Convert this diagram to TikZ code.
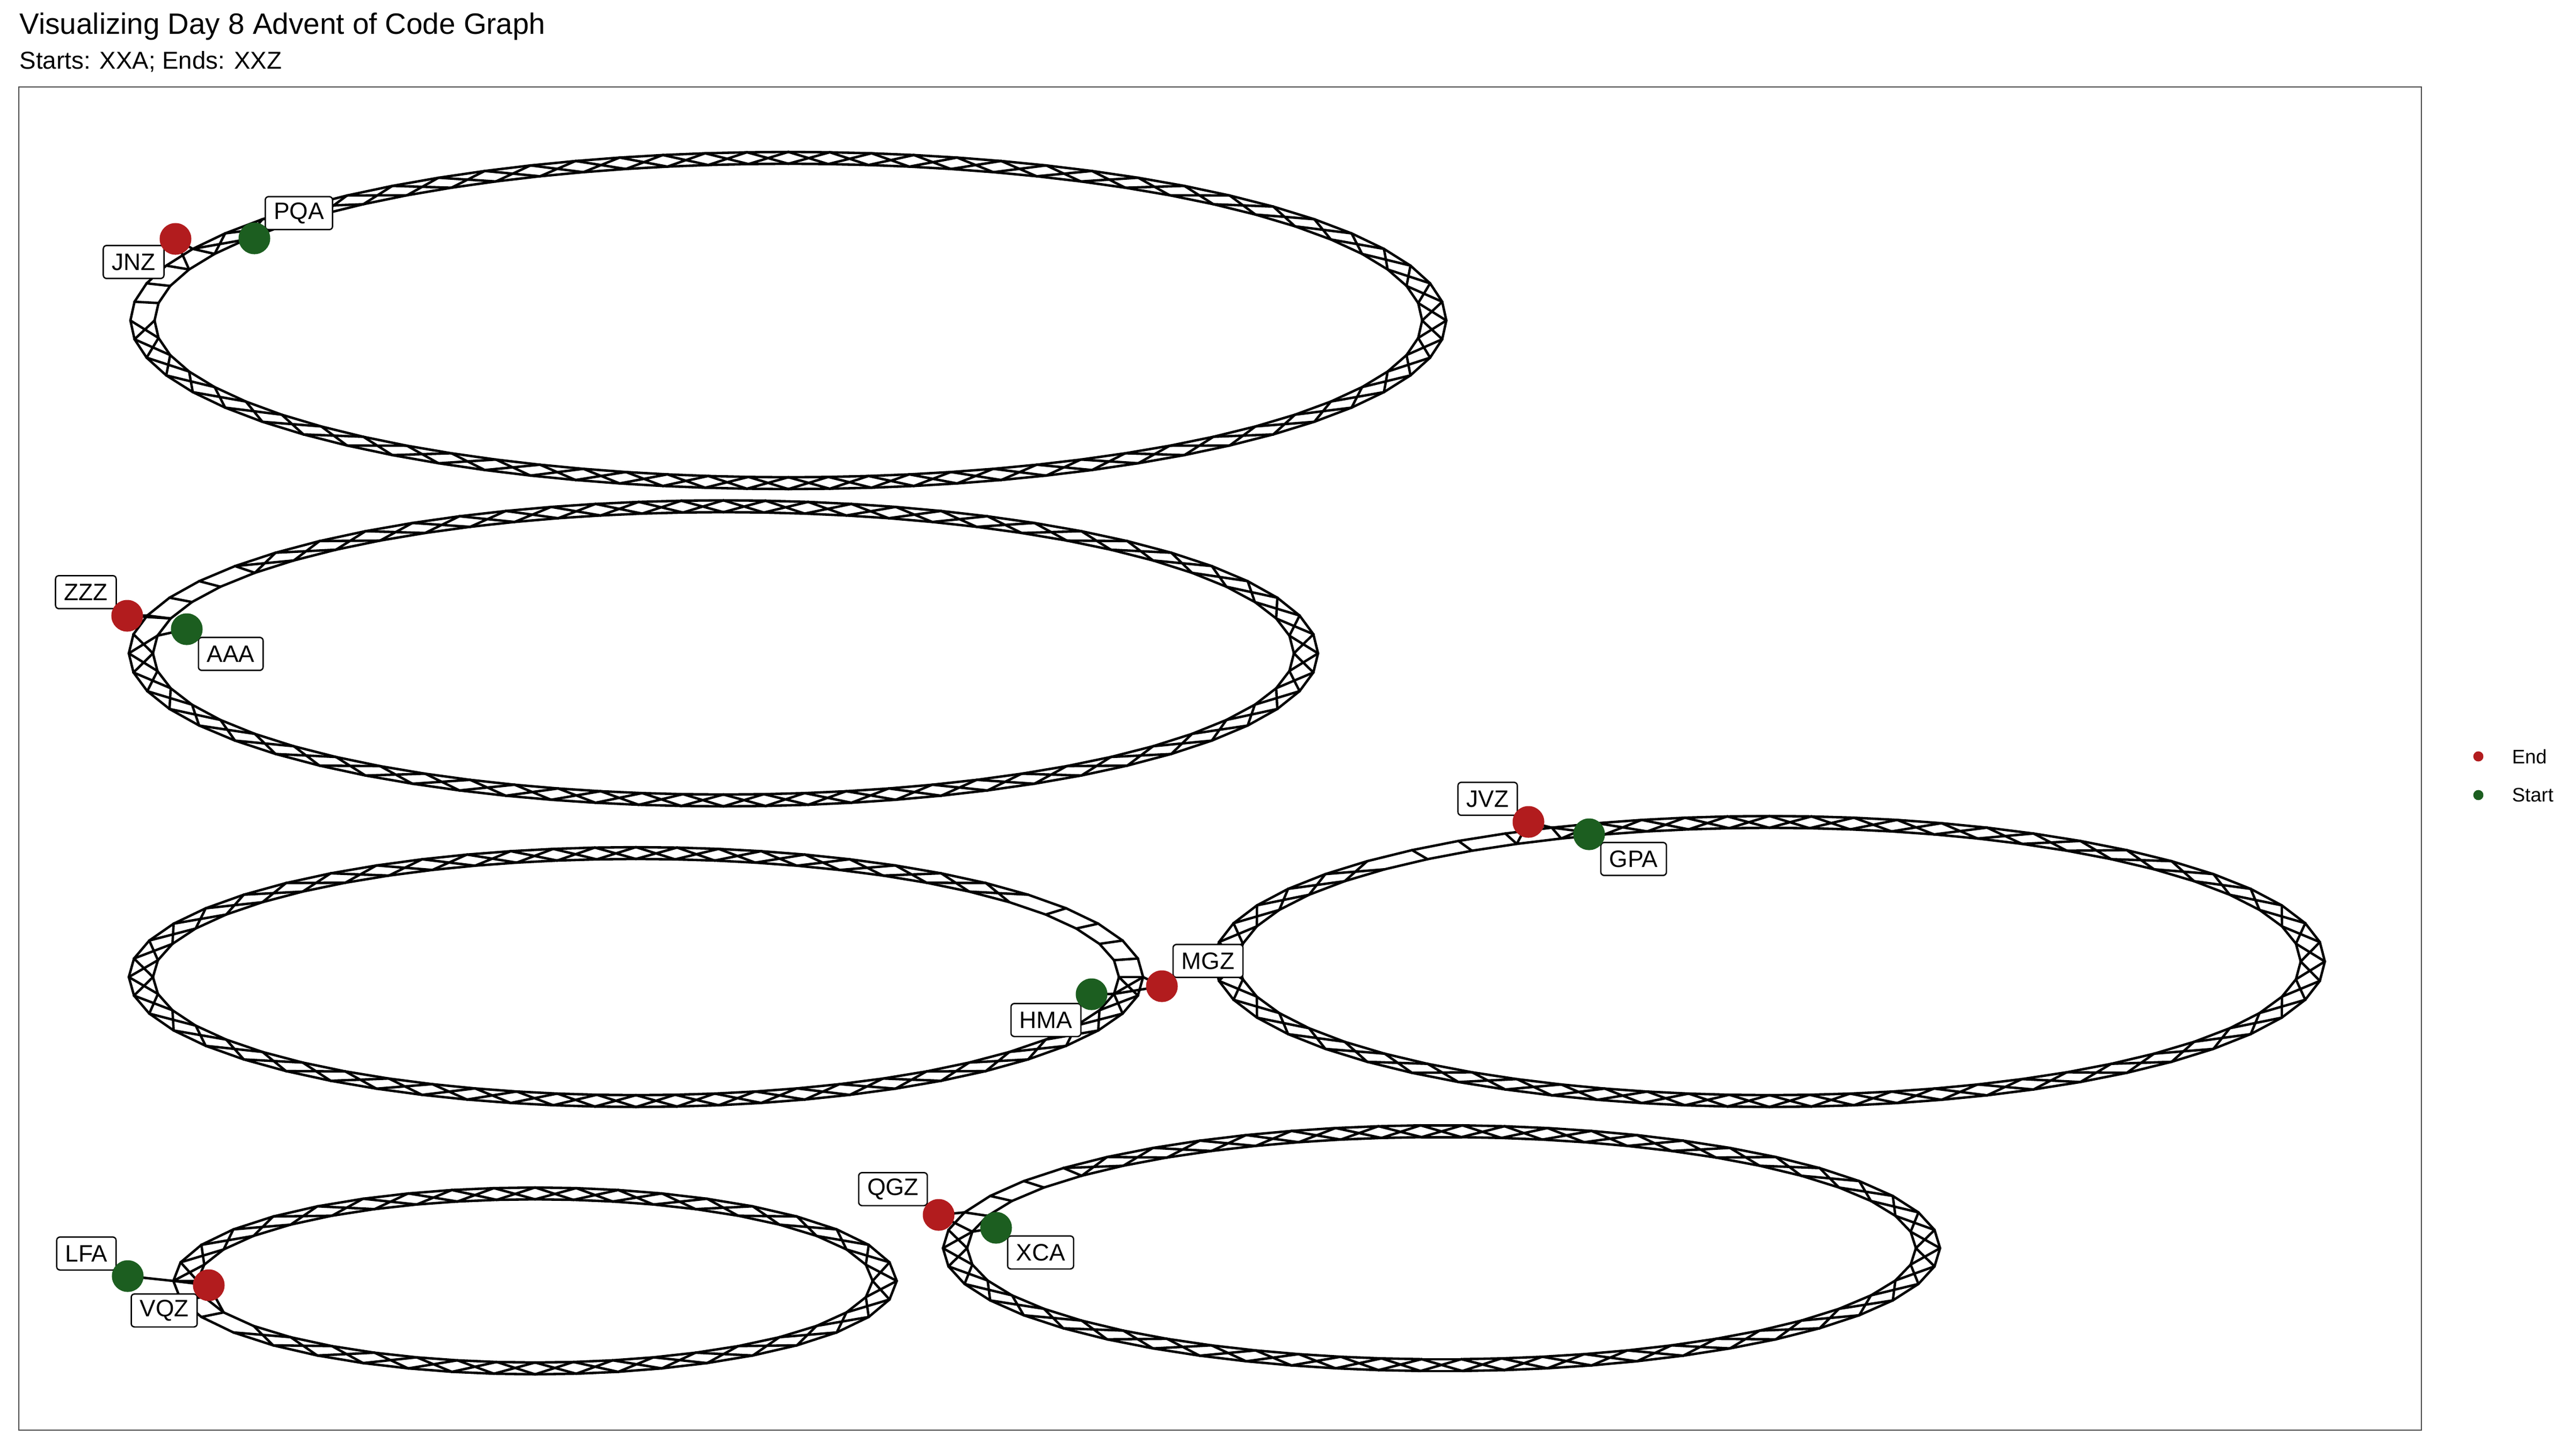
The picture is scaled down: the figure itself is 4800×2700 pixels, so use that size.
\documentclass[tikz,border=0pt]{standalone}
\usepackage{fontspec}
\setmainfont{Liberation Sans}
\usepackage{tikz}
\usetikzlibrary{positioning}

\definecolor{endred}{RGB}{178,28,30}
\definecolor{startgreen}{RGB}{28,94,32}

% one ring component: name, cx, cy, rx, ry, nodes, ladder from, ladder to
\newcommand{\ringgraph}[8]{%
    \foreach \k in {0,...,#6}{
        \pgfmathsetmacro{\tt}{(360/#6)*\k}
        \pgfmathsetmacro{\th}{\tt + 8*sin(2*\tt)}
        \coordinate (#1o\k) at ({#2+#4*cos(\th)},{#3-#5*sin(\th)});
        \coordinate (#1i\k) at ({#2+(#4-45)*cos(\th)},{#3-(#5-22)*sin(\th)});
    }
    \foreach \k in {1,...,#6}{
        \pgfmathtruncatemacro{\p}{\k-1}
        \pgfmathsetmacro{\tt}{(360/#6)*\p}
        \pgfmathtruncatemacro{\rung}{and(\tt>=#7, \tt<#8)}
        \draw[strand] (#1o\p) -- (#1o\k) (#1i\p) -- (#1i\k);
        \ifnum\rung=1 \draw[strand] (#1o\p) -- (#1i\p);
        \else \draw[strand] (#1o\p) -- (#1i\k) (#1i\p) -- (#1o\k); \fi
    }%
}

\begin{document}
\begin{tikzpicture}[x=0.0846667mm, y=-0.0846667mm,
    strand/.style = {line width=1.1pt, line cap=round, line join=round},
    nodetag/.style = {draw, fill=white, line width=0.6pt, rounded corners=1.5pt,
        inner xsep=1.35mm, inner ysep=0pt, minimum height=5.2mm,
        font=\fontsize{10.67}{12.8}\selectfont},
    enddot/.style = {circle, fill=endred, inner sep=0pt, minimum size=5mm},
    startdot/.style = {circle, fill=startgreen, inner sep=0pt, minimum size=5mm}]
    \useasboundingbox (0,0) rectangle (4800,2700);

    \node[anchor=base west, inner sep=0pt, font=\fontsize{13.2}{15.8}\selectfont] (title) at (36,63) {Visualizing Day 8 Advent of Code Graph};
    \node[anchor=base west, inner sep=0pt, font=\fontsize{11}{13.2}\selectfont] (subtitle) at (36,128) {Starts: XXA; Ends: XXZ};
    \draw[black!70, line width=0.5pt] (35,162) rectangle (4512,2664);

    \ringgraph{a}{1469}{597}{1226}{314}{72}{160}{180}
    \ringgraph{b}{1348}{1217}{1108}{285}{64}{148}{170}
    \ringgraph{c}{1185}{1820}{945}{242}{56}{0}{26}
    \ringgraph{d}{3297}{1791}{1035}{271}{60}{120}{144}
    \ringgraph{e}{997}{2386}{674}{174}{40}{180}{207}
    \ringgraph{f}{2686}{2325}{929}{229}{54}{140}{167}

    % start and end nodes
    \coordinate (jnz) at (327,445);
    \coordinate (pqa) at (474,444);
    \coordinate (zzz) at (237,1147);
    \coordinate (aaa) at (348,1172);
    \coordinate (mgz) at (2165,1837);
    \coordinate (hma) at (2034,1852);
    \coordinate (jvz) at (2848,1531);
    \coordinate (gpa) at (2961,1554);
    \coordinate (vqz) at (389,2394);
    \coordinate (lfa) at (238,2377);
    \coordinate (qgz) at (1749,2263);
    \coordinate (xca) at (1856,2287);

    \draw[strand] (jnz) -- (ao32) (jnz) -- (ai33) (pqa) -- (ai31);
    \draw[strand] (zzz) -- (bo30) (zzz) -- (bi30) (aaa) -- (bi31);
    \draw[strand] (mgz) -- (co0) (mgz) -- (ci55) (hma) -- (ci55);
    \draw[strand] (jvz) -- (do20) (jvz) -- (di21) (gpa) -- (di19);
    \draw[strand] (vqz) -- (eo20) (vqz) -- (ei22) (lfa) -- (eo20);
    \draw[strand] (qgz) -- (fo25) (qgz) -- (fi26) (xca) -- (fi26);

    \node[nodetag] (jnztag) at (249,488) {JNZ};
    \node[nodetag] (pqatag) at (557,397) {PQA};
    \node[nodetag] (zzztag) at (160,1103) {ZZZ};
    \node[nodetag] (aaatag) at (430,1218) {AAA};
    \node[nodetag] (mgztag) at (2251,1790) {MGZ};
    \node[nodetag] (hmatag) at (1949,1900) {HMA};
    \node[nodetag] (jvztag) at (2772,1488) {JVZ};
    \node[nodetag] (gpatag) at (3044,1600) {GPA};
    \node[nodetag] (lfatag) at (161,2335) {LFA};
    \node[nodetag] (vqztag) at (306,2441) {VQZ};
    \node[nodetag] (qgztag) at (1664,2215) {QGZ};
    \node[nodetag] (xcatag) at (1939,2333) {XCA};

    \foreach \n in {jnz,zzz,mgz,jvz,vqz,qgz} \node[enddot] (\n dot) at (\n) {};
    \foreach \n in {pqa,aaa,hma,gpa,lfa,xca} \node[startdot] (\n dot) at (\n) {};

    % legend
    \node[enddot, minimum size=1.6mm] (keyend) at (4618,1409) {};
    \node[startdot, minimum size=1.6mm] (keystart) at (4618,1481) {};
    \node[right=3.2mm of keyend, font=\fontsize{8.8}{10.5}\selectfont] (keyendtext) {End};
    \node[right=3.2mm of keystart, font=\fontsize{8.8}{10.5}\selectfont] (keystarttext) {Start};
\end{tikzpicture}
\end{document}
